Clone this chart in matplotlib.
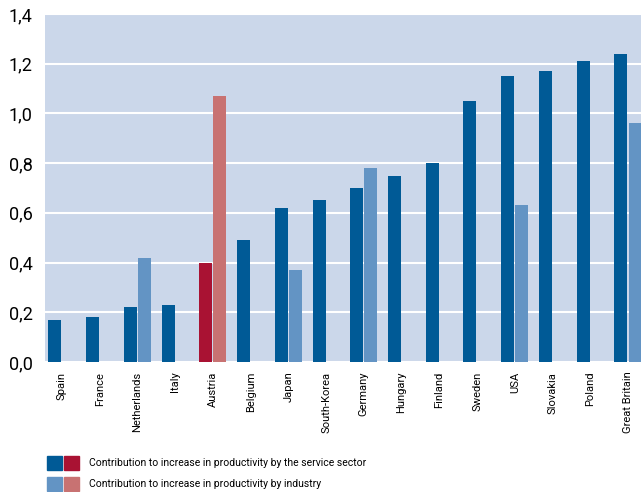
import numpy as np
import matplotlib
matplotlib.use('Agg')
import matplotlib.pyplot as plt
from matplotlib.patches import Rectangle
from matplotlib.ticker import FuncFormatter

countries = ['Spain', 'France', 'Netherlands', 'Italy', 'Austria', 'Belgium', 'Japan',
             'South-Korea', 'Germany', 'Hungary', 'Finland', 'Sweden', 'USA',
             'Slovakia', 'Poland', 'Great Britain']
service = [0.17, 0.18, 0.22, 0.23, 0.40, 0.49, 0.62, 0.65, 0.70, 0.75, 0.80, 1.05,
           1.15, 1.17, 1.21, 1.24]
industry = [0, 0, 0.42, 0, 1.07, 0, 0.37, 0, 0.78, 0, 0, 0, 0.63, 0, 0, 0.96]
highlight = 'Austria'

dark_blue = '#005a96'
light_blue = '#6394c4'
dark_red = '#a91233'
light_red = '#c87272'
bg = '#cbd7ea'

plt.rcParams['font.family'] = ['Roboto', 'DejaVu Sans']

fig = plt.figure(figsize=(6.41, 4.92), dpi=100)
ax = fig.add_axes([45 / 641, 1 - 362 / 492, 1 - 45 / 641, 348 / 492])
ax.set_facecolor(bg)

x = np.arange(len(countries))
w = 0.345
c_serv = [dark_red if c == highlight else dark_blue for c in countries]
c_ind = [light_red if c == highlight else light_blue for c in countries]
ax.bar(x - w / 2 - 0.015, service, width=w, color=c_serv, zorder=3)
ax.bar(x + w / 2 + 0.015, industry, width=w, color=c_ind, zorder=3)

ax.set_xlim(-0.45, 15.345)
ax.set_ylim(0, 1.4)
ax.set_yticks(np.arange(0, 1.41, 0.2))
ax.yaxis.set_major_formatter(FuncFormatter(lambda v, p: f'{v:.1f}'.replace('.', ',')))
ax.grid(axis='y', color='white', linewidth=1.5, zorder=1)
ax.set_axisbelow(True)
for s in ax.spines.values():
    s.set_visible(False)
ax.tick_params(length=0)
ax.tick_params(axis='y', labelsize=13, pad=9)
ax.set_xticks(x)
ax.set_xticklabels(countries, rotation=90, fontsize=8)
ax.tick_params(axis='x', pad=7)

# legend
sq = 15 / 641
sh = 14 / 492
rows = [(456, dark_blue, dark_red, 'Contribution to increase in productivity by the service sector'),
        (477, light_blue, light_red, 'Contribution to increase in productivity by industry')]
for ytop, c1, c2, label in rows:
    yb = 1 - (ytop + 14) / 492
    fig.patches.append(Rectangle((47 / 641, yb), sq, sh, color=c1, transform=fig.transFigure))
    fig.patches.append(Rectangle((64 / 641, yb), sq, sh, color=c2, transform=fig.transFigure))
    fig.text(89 / 641, yb + sh / 2, label, fontsize=7.5, va='center')

fig.savefig('out.png', dpi=100)
